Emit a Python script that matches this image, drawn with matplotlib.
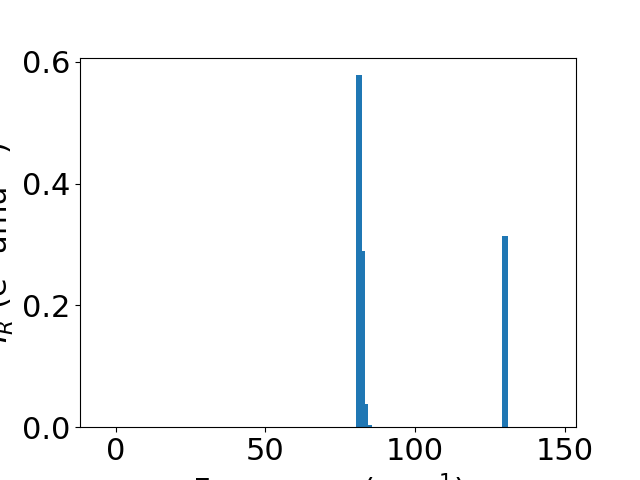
import matplotlib
matplotlib.use('Agg')
import matplotlib.pyplot as plt

# IR modes: frequency (cm^-1) and intensity (e^2 amu^-1)
freqs = [81.3, 82.4, 83.4, 84.6, 130.1]
intensities = [0.578, 0.290, 0.038, 0.003, 0.314]

plt.rcParams['font.size'] = 22

fig, ax = plt.subplots(figsize=(6.4, 4.8), dpi=100)
ax.bar(freqs, intensities, width=2.0, color='#1f77b4')
ax.set_xlim(-12, 153.8)
ax.set_xticks([0, 50, 100, 150])
ax.set_yticks([0.0, 0.2, 0.4, 0.6])
ax.set_xlabel('Frequency (cm$^{-1}$)')
ax.set_ylabel('$I_R$ (e$^2$ amu$^{-1}$)')
fig.savefig('out.png')
